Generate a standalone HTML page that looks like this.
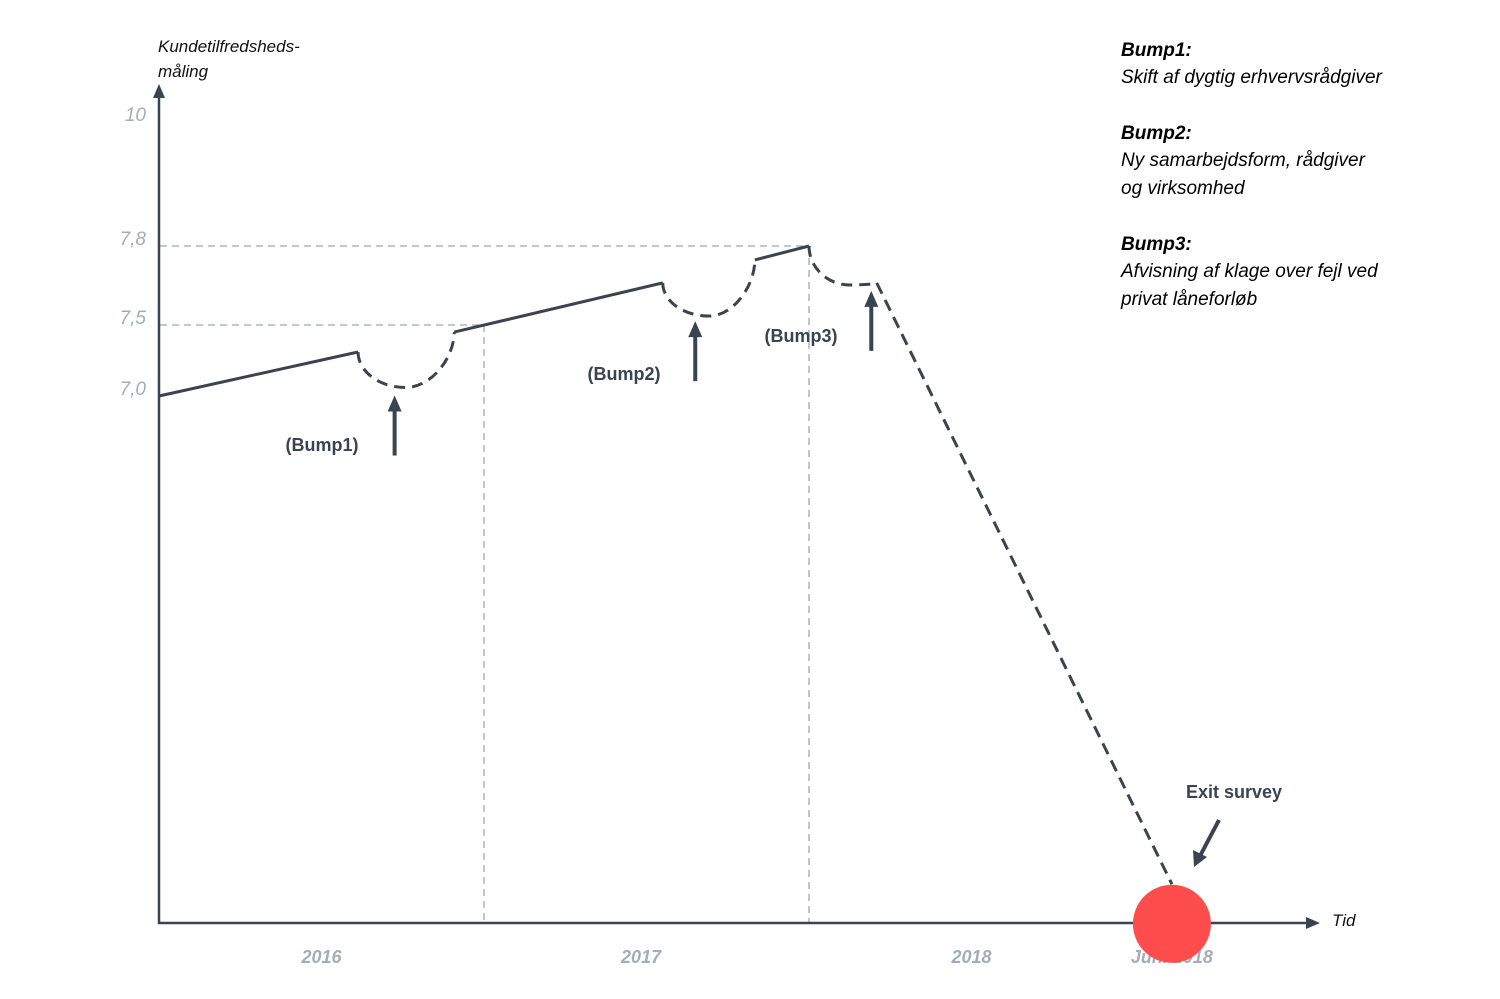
<!DOCTYPE html>
<html><head><meta charset="utf-8"><style>
html,body{margin:0;padding:0;background:#fff;}
svg{display:block;font-family:"Liberation Sans",sans-serif;}
</style></head><body>
<svg width="1500" height="999" viewBox="0 0 1500 999">
<g id="g"></g>
</svg>
<script>
// Data: x in months from Jan 2016, y is satisfaction score
const yTickValues = [7.0, 7.5, 7.8, 10];
const yTickLabels = ["7,0", "7,5", "7,8", "10"];
const yearLabels = ["2016", "2017", "2018", "Juni 2018"];
const yearMonths = [6, 17.8, 30, 37.4];
const solidSegments = [[[0,7.0],[7.35,7.31]], [[10.9,7.45],[18.6,7.66]], [[22.0,7.747],[24,7.8]]];
const bumpArcs = [[[7.35,7.31],[9.1,7.06],[10.9,7.45]], [[18.6,7.66],[20.3,7.534],[22.0,7.747]], [[24,7.8],[25.5,7.652],[26.5,7.66]]];
const declineLine = [[26.5,7.66],[37.4,3.55]];
const exitPoint = [37.4, 3.27];
const bumpArrowMonths = [8.7, 19.8, 26.3];
const bumpArrowTops = [7.06, 7.545, 7.66];
const bumpNames = ["(Bump1)", "(Bump2)", "(Bump3)"];

const x = m => 159 + m * 325 / 12;
const yAnch = [[3.0, 962], [7.0, 396], [7.5, 325], [7.8, 246], [10, 114]];
function y(v){
  for (let i=0;i<yAnch.length-1;i++){
    const [a,pa]=yAnch[i],[b,pb]=yAnch[i+1];
    if (v<=b || i===yAnch.length-2) return pa+(v-a)/(b-a)*(pb-pa);
  }
}
const NS="http://www.w3.org/2000/svg", g=document.getElementById('g');
function el(t,attrs,txt){const e=document.createElementNS(NS,t);for(const k in attrs)e.setAttribute(k,attrs[k]);if(txt!==undefined)e.textContent=txt;g.appendChild(e);return e;}
const dark="#3a4350", gray="#a5acb8";

// gridlines
let e;
e=el('line',{x1:160,y1:y(7.5),x2:x(12),y2:y(7.5),stroke:"#a0a6b0","stroke-width":1.3,"stroke-dasharray":"7 5"});

e=el('line',{x1:160,y1:y(7.8),x2:x(24),y2:y(7.8),stroke:"#a0a6b0","stroke-width":1.3,"stroke-dasharray":"7 5"});

e=el('line',{x1:x(12),y1:y(7.5),x2:x(12),y2:923,stroke:"#a0a6b0","stroke-width":1.3,"stroke-dasharray":"7 5"});

e=el('line',{x1:x(24),y1:y(7.8),x2:x(24),y2:923,stroke:"#a0a6b0","stroke-width":1.3,"stroke-dasharray":"7 5"});


// axes
e=el('line',{x1:159,y1:924,x2:159,y2:96,stroke:dark,"stroke-width":2.5});

e=el('polygon',{points:"159,84 153,98 165,98",fill:dark});

e=el('line',{x1:158,y1:923,x2:1308,y2:923,stroke:dark,"stroke-width":2.5});

e=el('polygon',{points:"1320,923 1306,917 1306,929",fill:dark});


e=el('text',{x:158,y:52,"font-size":17,"font-style":"italic",fill:"#111"},"Kundetilfredsheds-");

e=el('text',{x:158,y:77,"font-size":17,"font-style":"italic",fill:"#111"},"måling");

e=el('text',{x:1332,y:926,"font-size":17,"font-style":"italic",fill:"#111"},"Tid");


yTickValues.forEach((v,i)=>{
  const t=el('text',{x:146,y:(v===10?y(v)+7:y(v)-1),"font-size":19,"font-style":"italic","text-anchor":"end",fill:gray},yTickLabels[i]);
  
  
});
yearLabels.forEach((l,i)=>{
  const t=el('text',{x:x(yearMonths[i]),y:963,"font-size":18,"font-style":"italic","font-weight":"bold","text-anchor":"middle",fill:gray},l);
  
  
});

// series
solidSegments.forEach(s=>{
  const l=el('line',{x1:x(s[0][0]),y1:y(s[0][1]),x2:x(s[1][0]),y2:y(s[1][1]),stroke:dark,"stroke-width":3});
  
  
});
bumpArcs.forEach(a=>{
  const [sx,sy]=[x(a[0][0]),y(a[0][1])],[bx,by]=[x(a[1][0]),y(a[1][1])],[ex,ey]=[x(a[2][0]),y(a[2][1])];
  const k=0.55;
  const d=`M${sx},${sy} C${sx},${sy+k*(by-sy)} ${bx-k*(bx-sx)},${by} ${bx},${by} C${bx+k*(ex-bx)},${by} ${ex},${by-k*(by-ey)} ${ex},${ey}`;
  const p=el('path',{d:d,fill:"none",stroke:dark,"stroke-width":3,"stroke-dasharray":"11 7"});
  
  
});
e=el('line',{x1:x(declineLine[0][0]),y1:y(declineLine[0][1]),x2:x(declineLine[1][0]),y2:y(declineLine[1][1]),stroke:dark,"stroke-width":3,"stroke-dasharray":"12 7"});

e=el('circle',{cx:x(exitPoint[0]),cy:y(exitPoint[1]),r:39,fill:"#ff4d4d"});


// bump arrows and labels
bumpArrowMonths.forEach((m,i)=>{
  const ax=x(m), top=y(bumpArrowTops[i])+10;
  const l=el('line',{x1:ax,y1:top+58,x2:ax,y2:top+10,stroke:dark,"stroke-width":4});
  
  
  const h=el('polygon',{points:`${ax},${top-2} ${ax-7},${top+14} ${ax+7},${top+14}`,fill:dark});
  
  
});
const labelPos=[[322,451],[624,380],[801,342]];
bumpNames.forEach((n,i)=>{
  const t=el('text',{x:labelPos[i][0],y:labelPos[i][1],"font-size":18,"font-weight":"bold","text-anchor":"middle",fill:dark},n);
  
  
});
e=el('line',{x1:1219,y1:820,x2:1200,y2:856,stroke:dark,"stroke-width":4});

e=el('polygon',{points:"1194,867 1193,850 1207,857",fill:dark});

e=el('text',{x:1234,y:798,"font-size":18,"font-weight":"bold","text-anchor":"middle",fill:dark},"Exit survey");


// legend notes
const notes=[["Bump1:",56,["Skift af dygtig erhvervsrådgiver"]],["Bump2:",139,["Ny samarbejdsform, rådgiver","og virksomhed"]],["Bump3:",250,["Afvisning af klage over fejl ved","privat låneforløb"]]];
notes.forEach(n=>{
  const h=el('text',{x:1121,y:n[1],"font-size":19,"font-style":"italic","font-weight":"bold",fill:"#000"},n[0]);
  
  
  n[2].forEach((line,j)=>{
    const t=el('text',{x:1121,y:n[1]+27+j*28,"font-size":19,"font-style":"italic",fill:"#000"},line);
    
    
  });
});
</script>
</body></html>
